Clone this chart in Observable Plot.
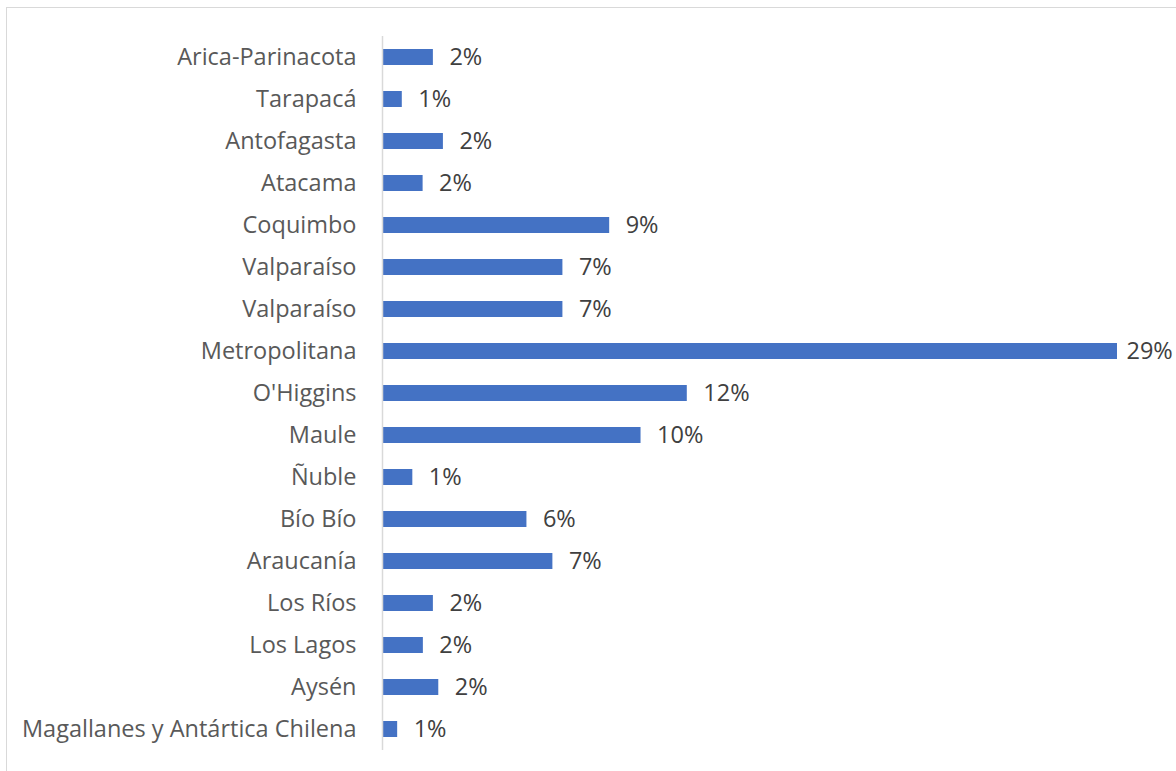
<!DOCTYPE html>
<html>
<head>
<meta charset="utf-8">
<script src="https://cdn.jsdelivr.net/npm/d3@7"></script>
<script src="https://cdn.jsdelivr.net/npm/@observablehq/plot@0.6"></script>
<style>
  html, body { margin: 0; padding: 0; background: #fff; overflow: hidden; }
  #wrap { position: relative; width: 1176px; height: 771px; }
  #frame { position: absolute; left: 6px; top: 7px; width: 1200px; height: 800px; border: 1.5px solid #d9d9d9; box-sizing: border-box; }
  #chart { position: absolute; left: 0; top: 0; }
</style>
</head>
<body>
<div id="wrap"><div id="frame"></div><div id="chart"></div></div>
<script>
const regions = [
  "Arica-Parinacota", "Tarapacá", "Antofagasta", "Atacama", "Coquimbo",
  "Valparaíso", "Valparaíso", "Metropolitana", "O'Higgins", "Maule",
  "Ñuble", "Bío Bío", "Araucanía", "Los Ríos", "Los Lagos", "Aysén",
  "Magallanes y Antártica Chilena"
];
// share in percent
const shares = [
  1.98, 0.77, 2.37, 1.58, 8.84,
  7.02, 7.02, 28.6, 11.86, 10.06,
  1.18, 5.62, 6.63, 1.98, 1.59, 2.19,
  0.59
];

const data = regions.map((r, i) => ({i, region: r, share: shares[i]}));
const maxShare = d3.max(shares);
const fmt = v => d3.format(".0f")(v) + "%";

const chart = Plot.plot({
  width: 1176,
  height: 771,
  marginLeft: 382,
  marginRight: 59,
  marginTop: 36,
  marginBottom: 21,
  style: {fontFamily: "'Open Sans', sans-serif", fontSize: "23.5px", background: "transparent"},
  x: {domain: [0, 28.6], axis: null},
  y: {domain: d3.range(regions.length), paddingInner: 0.62, paddingOuter: 0.31, axis: null},
  marks: [
    Plot.barX(data, {x: "share", y: "i", fill: "#4472C4"}),
    Plot.ruleX([0], {stroke: "#d9d9d9", strokeWidth: 1.5}),
    Plot.axisY({
      tickSize: 0, tickPadding: 26, fontSize: 23.5, fill: "#595959", label: null,
      tickFormat: i => regions[i]
    }),
    Plot.text(data.filter(d => d.share < maxShare), {
      x: "share", y: "i", text: d => fmt(d.share),
      textAnchor: "start", dx: 16, fontSize: 23.5, fill: "#404040"
    }),
    Plot.text(data.filter(d => d.share === maxShare), {
      x: "share", y: "i", text: d => fmt(d.share),
      textAnchor: "start", dx: 9, fontSize: 23.5, fill: "#404040"
    })
  ]
});
document.getElementById("chart").appendChild(chart);
</script>
</body>
</html>
